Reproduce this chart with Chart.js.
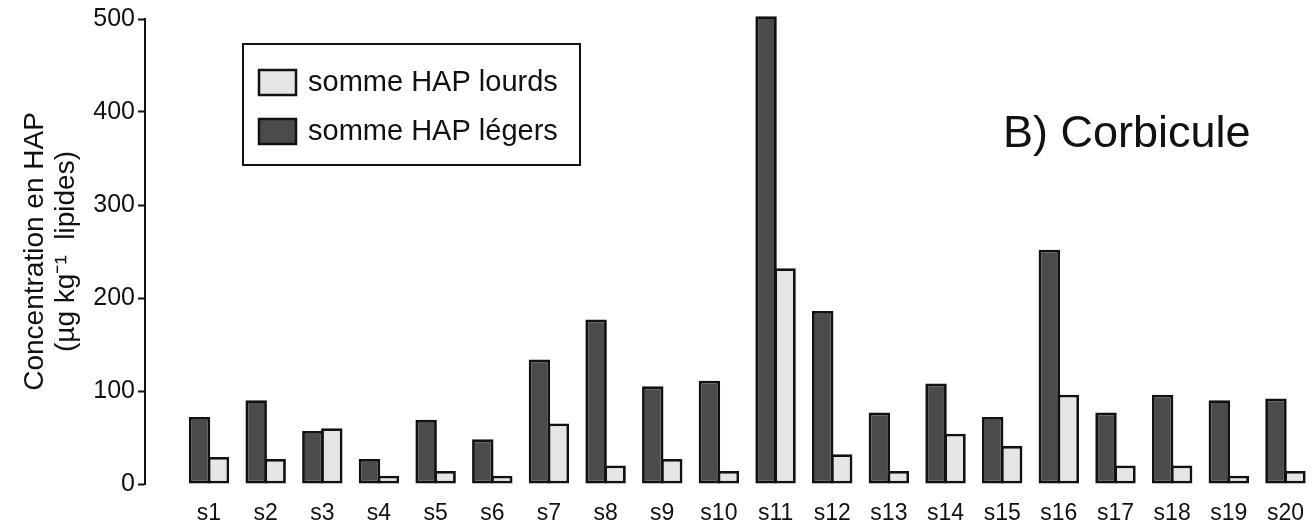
<!DOCTYPE html>
<html lang="fr">
<head>
<meta charset="utf-8">
<title>Concentration en HAP - Corbicule</title>
<script src="https://cdn.jsdelivr.net/npm/chart.js@4.4.1/dist/chart.umd.min.js"></script>
<style>
  html, body { margin: 0; padding: 0; background: #fff; }
  #wrap { width: 1312px; height: 522px; }
</style>
</head>
<body>
<div id="wrap"><canvas id="hapChart" width="1312" height="522"></canvas></div>
<script>
// Sites de prélèvement
const SITES = ['s1', 's2', 's3', 's4', 's5', 's6', 's7', 's8', 's9', 's10',
               's11', 's12', 's13', 's14', 's15', 's16', 's17', 's18', 's19', 's20'];

// Somme des HAP légers (µg kg-1 lipides)
const HAP_LEGERS = [72, 90, 57, 27, 69, 48, 134, 177, 105, 111,
                    503, 186, 77, 108, 72, 252, 77, 96, 90, 92];

// Somme des HAP lourds (µg kg-1 lipides)
const HAP_LOURDS = [29, 27, 60, 9, 14, 9, 65, 20, 27, 14,
                    232, 32, 14, 54, 41, 96, 20, 20, 9, 14];

const Y_TICKS = [0, 100, 200, 300, 400, 500];

const FONT = '"Liberation Sans", Arial, Helvetica, sans-serif';
const INK = '#111111';

// les sites sont placés sur un axe linéaire (1..20) pour laisser un blanc après l'axe Y
const toPoints = arr => arr.map((v, i) => ({ x: i + 1, y: v }));

// cadre de légende + titre du panneau
const legendBox = {
  id: 'legendBox',
  afterDraw(chart) {
    const { ctx, chartArea } = chart;
    const x = chartArea.left + 98;
    const y = chartArea.top + 25;
    ctx.save();
    ctx.fillStyle = '#fff';
    ctx.fillRect(x, y, 337, 121);
    ctx.lineWidth = 2;
    ctx.strokeStyle = INK;
    ctx.strokeRect(x, y, 337, 121);

    // lourds d'abord, puis légers
    const entries = [chart.data.datasets[1], chart.data.datasets[0]];
    entries.forEach((ds, i) => {
      const by = y + 26 + i * 49;
      ctx.fillStyle = ds.backgroundColor;
      ctx.fillRect(x + 16, by, 37, 25);
      ctx.lineWidth = 2.5;
      ctx.strokeStyle = ds.borderColor;
      ctx.strokeRect(x + 16, by, 37, 25);
      ctx.fillStyle = INK;
      ctx.font = '29px ' + FONT;
      ctx.textBaseline = 'middle';
      ctx.textAlign = 'left';
      ctx.fillText(ds.label, x + 65, by + 13);
    });

    ctx.font = '45px ' + FONT;
    ctx.textBaseline = 'alphabetic';
    ctx.fillText('B) Corbicule', chartArea.left + 858, 147);
    ctx.restore();
  }
};

new Chart(document.getElementById('hapChart'), {
  type: 'bar',
  data: {
    datasets: [
      {
        label: 'somme HAP légers',
        data: toPoints(HAP_LEGERS),
        backgroundColor: '#4b4b49',
        borderColor: INK,
        borderWidth: 2.8,
        borderSkipped: false,
        clip: false
      },
      {
        label: 'somme HAP lourds',
        data: toPoints(HAP_LOURDS),
        backgroundColor: '#e5e5e3',
        borderColor: INK,
        borderWidth: 2.8,
        borderSkipped: false,
        clip: false
      }
    ]
  },
  options: {
    responsive: false,
    animation: false,
    layout: { padding: { top: 19, left: 0, right: 0, bottom: 0 } },
    // les deux barres d'un site se chevauchent d'un trait de bordure
    categoryPercentage: 0.67,
    barPercentage: 1.13,
    plugins: {
      legend: { display: false },
      tooltip: { enabled: false }
    },
    scales: {
      x: {
        type: 'linear',
        offset: false,
        min: -0.13,
        max: 20.42,
        grid: { display: false, offset: false },
        border: { display: false },
        afterBuildTicks: axis => {
          axis.ticks = SITES.map((s, i) => ({ value: i + 1 }));
        },
        afterFit: axis => { axis.height = 38; },
        ticks: {
          autoSkip: false,
          maxRotation: 0,
          padding: 8,
          color: INK,
          font: { family: FONT, size: 23 },
          callback: v => SITES[v - 1]
        }
      },
      y: {
        min: 0,
        max: 500,
        afterBuildTicks: axis => {
          axis.ticks = Y_TICKS.map(v => ({ value: v }));
        },
        afterFit: axis => { axis.width = 145; },
        grid: {
          drawOnChartArea: false,
          drawTicks: true,
          tickLength: 7,
          tickWidth: 2,
          color: INK
        },
        border: { display: true, color: INK, width: 2 },
        ticks: {
          padding: 3,
          color: INK,
          font: { family: FONT, size: 25 }
        },
        title: {
          display: true,
          text: ['Concentration en HAP', '(µg kg⁻¹  lipides)'],
          color: INK,
          font: { family: FONT, size: 28, lineHeight: 1.1 },
          padding: { top: 20, bottom: 0 }
        }
      }
    }
  },
  plugins: [legendBox]
});
</script>
</body>
</html>
